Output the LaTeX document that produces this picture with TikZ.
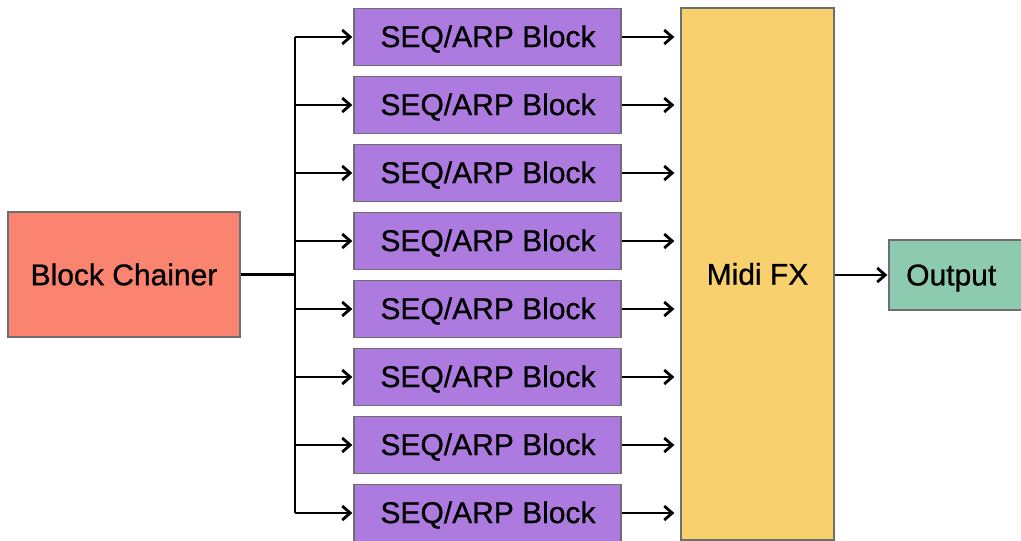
\documentclass[tikz,border=0pt]{standalone}
\usepackage{fontspec}
\setmainfont{Liberation Sans}[FakeBold=0.8]
\usetikzlibrary{arrows.meta}
\definecolor{chainerfill}{HTML}{FA8470}
\definecolor{seqfill}{HTML}{AD7BE0}
\definecolor{fxfill}{HTML}{F8D16E}
\definecolor{outfill}{HTML}{8DCBB0}
\definecolor{boxline}{HTML}{6E6E6E}
\tikzset{
  box/.style={draw=boxline, line width=1.3pt, inner sep=0pt, anchor=center,
    font=\fontsize{30}{34}\selectfont, text=black},
  wire/.style={line width=2.8pt, draw=black},
  arrowwire/.style={wire, -{Straight Barb[length=8pt,width=14pt,line width=2.8pt]}},
}
\begin{document}
\begin{tikzpicture}[x=1pt,y=-1pt]
  \useasboundingbox (0,0) rectangle (1021,541);

  % source and sink blocks
  \node[box, fill=chainerfill, minimum width=232pt, minimum height=125pt] (chainer) at (124,274.5) {Block Chainer};
  \node[box, fill=fxfill, minimum width=153pt, minimum height=532pt] (fx) at (757.5,274) {Midi FX};
  \node[box, fill=outfill, minimum width=150pt, minimum height=70pt] (out) at (964,275) {};
  \node[anchor=west, inner sep=0pt, font=\fontsize{30}{34}\selectfont] (outlabel) at (906,278) {Output};

  % eight parallel sequencer blocks and their feed points on the trunk
  \foreach \i/\y in {1/37,2/105,3/173,4/241,5/309,6/377,7/445,8/513} {
    \node[box, fill=seqfill, minimum width=267pt, minimum height=57pt] (s\i) at (487.5,\y) {};
    \node[inner sep=0pt, font=\fontsize{30}{34}\selectfont] (l\i) at (488,\y+2) {SEQ/ARP Block};
    \coordinate (t\i) at (295,\y);
  }

  % distribution trunk
  \draw[wire] (t1) -- (t8);
  \draw[wire] (chainer.east) -- (chainer.east -| t1);
  \foreach \i in {1,...,8} {
    \draw[arrowwire, shorten >=1pt] (t\i) -- (s\i.west);
    \draw[arrowwire, shorten >=6pt] (s\i.east) -- (s\i.east -| fx.west);
  }

  % merge output
  \draw[arrowwire, shorten >=1pt] (fx.east |- out.west) -- (out.west);
\end{tikzpicture}
\end{document}
